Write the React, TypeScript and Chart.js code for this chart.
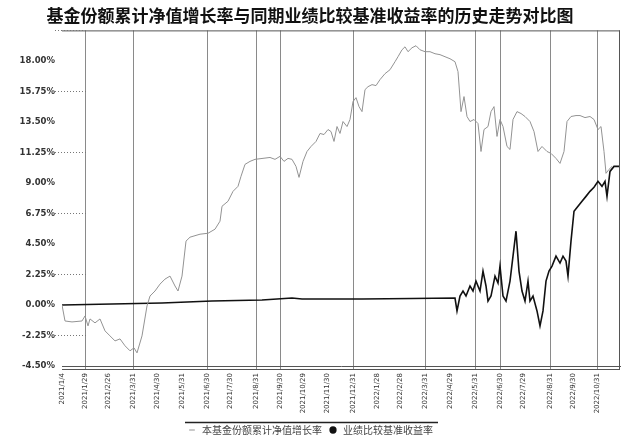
import React, { useEffect, useRef } from "react";
import { Chart, registerables } from "chart.js";

Chart.register(...registerables);

const TITLE = "基金份额累计净值增长率与同期业绩比较基准收益率的历史走势对比图";
const SERIES_FUND = "本基金份额累计净值增长率";
const SERIES_BENCH = "业绩比较基准收益率";

const fundDays = [0, 3, 10, 20, 23, 26, 28, 33, 38, 43, 48, 53, 58, 63, 68, 72, 75, 80, 85, 88, 93, 98, 103, 108, 113, 116, 120, 124, 128, 138, 146, 153, 158, 160, 166, 171, 176, 179, 183, 188, 193, 208, 213, 218, 222, 226, 230, 234, 237, 241, 245, 249, 254, 258, 262, 266, 269, 272, 275, 278, 281, 285, 288, 291, 294, 297, 300, 303, 306, 310, 314, 318, 323, 328, 333, 336, 340, 343, 346, 350, 354, 358, 363, 368, 373, 378, 383, 388, 393, 396, 399, 402, 405, 408, 412, 416, 419, 422, 426, 429, 432, 435, 438, 441, 445, 448, 451, 455, 459, 463, 468, 472, 476, 480, 485, 489, 494, 498, 502, 505, 509, 514, 518, 523, 528, 532, 536, 539, 542, 544, 547, 550];
const fundValues = [0.0, -1.18, -1.25, -1.18, -0.81, -1.54, -1.03, -1.32, -1.03, -1.91, -2.28, -2.65, -2.5, -3.01, -3.38, -3.16, -3.53, -2.28, -0.07, 0.66, 1.03, 1.54, 1.91, 2.13, 1.4, 1.03, 2.13, 4.71, 5.0, 5.22, 5.29, 5.59, 6.18, 7.28, 7.65, 8.38, 8.75, 9.49, 10.37, 10.59, 10.74, 10.88, 10.74, 10.96, 10.59, 10.81, 10.74, 10.22, 9.41, 10.59, 11.32, 11.69, 12.06, 12.65, 12.57, 12.94, 12.79, 12.06, 13.16, 12.65, 13.53, 13.16, 13.68, 15.0, 15.29, 14.63, 14.26, 15.88, 16.1, 16.25, 16.18, 16.62, 17.06, 17.35, 17.94, 18.31, 18.82, 19.04, 18.68, 18.97, 19.12, 18.82, 18.68, 18.68, 18.53, 18.46, 18.31, 18.16, 17.94, 17.21, 14.26, 15.37, 13.9, 13.53, 13.68, 13.38, 11.32, 12.94, 13.16, 14.26, 14.63, 12.43, 13.68, 13.16, 11.69, 11.47, 13.68, 14.26, 14.12, 13.9, 13.53, 12.79, 11.32, 11.69, 11.32, 11.18, 10.81, 10.44, 11.32, 13.53, 13.9, 13.97, 13.97, 13.82, 13.9, 13.68, 12.94, 13.16, 11.32, 9.71, 10.0, 10.22];

const benchDays = [0, 50, 100, 150, 200, 230, 240, 300, 350, 393, 395, 398, 401, 404, 408, 411, 414, 418, 421, 424, 426, 429, 433, 436, 438, 441, 444, 448, 451, 454, 457, 460, 463, 466, 468, 471, 475, 478, 481, 484, 487, 490, 494, 498, 501, 504, 506, 509, 512, 516, 520, 524, 528, 532, 536, 540, 543, 545, 548, 552, 558];
const benchValues = [0.0, 0.07, 0.15, 0.29, 0.37, 0.51, 0.44, 0.44, 0.48, 0.51, -0.44, 0.66, 1.03, 0.66, 1.4, 1.03, 1.76, 1.03, 2.5, 1.4, 0.29, 0.66, 2.13, 1.62, 2.87, 0.66, 0.29, 1.76, 3.6, 5.44, 2.5, 1.03, 0.29, 1.76, 0.29, 0.66, -0.44, -1.54, -0.44, 1.76, 2.5, 2.87, 3.6, 3.09, 3.6, 3.24, 2.13, 4.71, 6.91, 7.28, 7.65, 8.01, 8.38, 8.68, 9.12, 8.75, 9.12, 8.01, 9.85, 10.22, 10.22];

const xTickDays = [0, 23, 46, 71, 95, 120, 145, 168, 194, 218, 241, 265, 291, 315, 338, 363, 388, 413, 438, 461, 488, 511, 535];
const xTickLabels = ["2021/1/4", "2021/1/29", "2021/2/26", "2021/3/31", "2021/4/30", "2021/5/31", "2021/6/30", "2021/7/30", "2021/8/31", "2021/9/30", "2021/10/29", "2021/11/30", "2021/12/31", "2022/1/28", "2022/2/28", "2022/3/31", "2022/4/29", "2022/5/31", "2022/6/30", "2022/7/29", "2022/8/31", "2022/9/30", "2022/10/31"];
const xGridTicks = [1, 3, 6, 8, 9, 12, 15, 17, 18, 20, 22];
const X_MIN = 0;
const X_MAX = 558;
const yTickValues = [-4.5, -2.25, 0, 2.25, 4.5, 6.75, 9, 11.25, 13.5, 15.75, 18, 20.25];
const Y_LABEL_MAX = 18;

const framePlugin = {
  id: "frame",
  afterDatasetsDraw(chart: any) {
    const { ctx, chartArea } = chart;
    const { left, right, top, bottom } = chartArea;
    ctx.save();
    ctx.strokeStyle = "#555";
    ctx.lineWidth = 1;
    ctx.beginPath();
    ctx.moveTo(left, top + 0.5);
    ctx.lineTo(right, top + 0.5);
    ctx.moveTo(right - 0.5, top);
    ctx.lineTo(right - 0.5, bottom + 4);
    ctx.moveTo(left, bottom + 3.5);
    ctx.lineTo(right, bottom + 3.5);
    ctx.stroke();
    const ys = chart.scales.y;
    ctx.setLineDash([1, 2]);
    ctx.strokeStyle = "#777";
    yTickValues.forEach((v, i) => {
      if (i % 2 === 1) {
        const py = Math.round(ys.getPixelForValue(v)) + 0.5;
        ctx.beginPath();
        ctx.moveTo(left - 7, py);
        ctx.lineTo(left + 25, py);
        ctx.stroke();
      }
    });
    ctx.setLineDash([]);
    const lg = chart.legend;
    if (lg && lg.legendHitBoxes && lg.legendHitBoxes.length) {
      const boxes = lg.legendHitBoxes;
      const x0 = boxes[0].left - 2;
      const last = boxes[boxes.length - 1];
      const x1 = last.left + last.width + 5;
      const ly = Math.round(boxes[0].top) - 2.5;
      ctx.strokeStyle = "#222";
      ctx.lineWidth = 1.5;
      ctx.beginPath();
      ctx.moveTo(x0, ly);
      ctx.lineTo(x1, ly);
      ctx.stroke();
    }
    ctx.restore();
  },
};

export default function App() {
  const ref = useRef<HTMLCanvasElement | null>(null);
  useEffect(() => {
    document.body.style.margin = "0";
    const canvas = ref.current;
    if (!canvas) return;
    const chart = new Chart(canvas, {
      type: "line",
      data: {
        datasets: [
          {
            label: SERIES_FUND,
            data: fundDays.map((d, i) => ({ x: d, y: fundValues[i] })),
            borderColor: "#939393",
            backgroundColor: "#939393",
            borderWidth: 1,
            pointRadius: 0,
            pointStyle: "line",
            tension: 0,
          },
          {
            label: SERIES_BENCH,
            data: benchDays.map((d, i) => ({ x: d, y: benchValues[i] })),
            borderColor: "#111",
            backgroundColor: "#111",
            borderWidth: 1.6,
            pointRadius: 0,
            pointStyle: "circle",
            tension: 0,
          },
        ],
      },
      options: {
        responsive: false,
        animation: false,
        layout: { padding: { left: 0, right: 9, top: 0, bottom: -8 } },
        plugins: {
          title: {
            display: true,
            text: TITLE,
            color: "#111",
            font: { family: "'Noto Sans CJK SC'", size: 17, weight: "bold" },
            padding: { top: 5, bottom: 5 },
          },
          legend: {
            position: "bottom",
            labels: {
              usePointStyle: true,
              boxWidth: 14,
              boxHeight: 4,
              padding: 6,
              color: "#444",
              font: { family: "'Noto Sans CJK SC'", size: 10 },
            },
          },
          tooltip: { enabled: false },
        },
        scales: {
          x: {
            type: "linear",
            min: X_MIN,
            max: X_MAX,
            afterBuildTicks: (s: any) => {
              s.ticks = xTickDays.map((v) => ({ value: v }));
            },
            afterFit: (s: any) => {
              s.height = 53;
            },
            ticks: {
              autoSkip: false,
              maxRotation: 90,
              minRotation: 90,
              padding: 3,
              color: "#333",
              font: { family: "'DejaVu Sans'", size: 7 },
              callback: (_v: any, i: number) => xTickLabels[i],
            },
            grid: {
              color: (c: any) => (xGridTicks.includes(c.index) ? "#8a8a8a" : "rgba(0,0,0,0)"),
              tickLength: 4,
            },
            border: { display: true, color: "#555", width: 1 },
          },
          y: {
            type: "linear",
            min: yTickValues[0],
            max: yTickValues[yTickValues.length - 1],
            afterBuildTicks: (s: any) => {
              s.ticks = yTickValues.map((v) => ({ value: v }));
            },
            afterFit: (s: any) => {
              s.width = 62;
            },
            ticks: {
              padding: 7,
              color: "#333",
              font: { family: "'DejaVu Sans'", size: 8.5, weight: "bold" },
              callback: (v: any) => (Number(v) > Y_LABEL_MAX ? "" : Number(v).toFixed(2) + "%"),
            },
            grid: { display: false, drawTicks: false },
            border: { display: false },
          },
        },
      },
      plugins: [framePlugin],
    } as any);
    return () => chart.destroy();
  }, []);
  return (
    <div style={{ width: 629, height: 437 }}>
      <canvas ref={ref} width={629} height={437} />
    </div>
  );
}
